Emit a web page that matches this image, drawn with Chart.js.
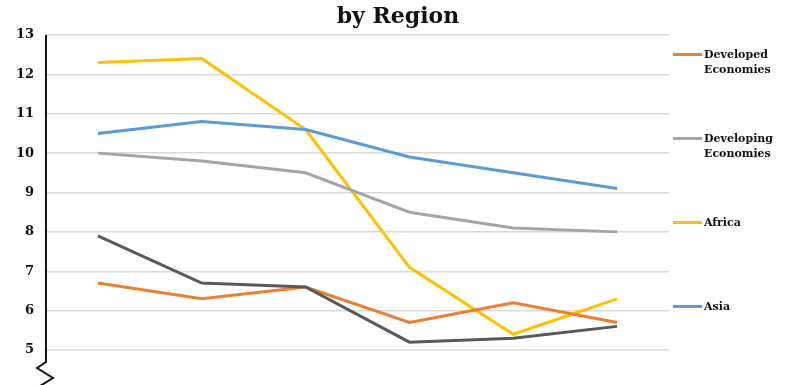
<!DOCTYPE html>
<html>
<head>
<meta charset="utf-8">
<script src="https://cdn.jsdelivr.net/npm/chart.js@4/dist/chart.umd.min.js"></script>
<style>
  html, body { margin: 0; padding: 0; background: #fff; overflow: hidden; }
  #wrap { position: relative; width: 796px; height: 385px; }
  #title { position: absolute; left: 0; top: 0; width: 796px; text-align: center;
           font-family: "DejaVu Serif", serif; font-weight: bold; font-size: 22px; line-height: 30px; color: #111; }
  .leg { position: absolute; left: 673px; font-family: "DejaVu Serif", serif; font-weight: bold;
         font-size: 11px; line-height: 15px; color: #111; }
  .leg i { position: absolute; left: 0; top: 6px; width: 29px; height: 3px; }
  .leg span { display: block; margin-left: 31px; }
</style>
</head>
<body>
<div id="wrap">
  <canvas id="lineChart" width="796" height="385"></canvas>
  <div id="title">by Region</div>
  <div id="legend"></div>
</div>
<script>
// Datos
var years = ['1', '2', '3', '4', '5', '6'];
var seriesNames = ['Developed Economies', 'Developing Economies', 'Africa', 'Asia', 'Latin America and the Caribbean'];
var developed = [6.7, 6.3, 6.6, 5.7, 6.2, 5.7];
var developing = [10.0, 9.8, 9.5, 8.5, 8.1, 8.0];
var africa = [12.3, 12.4, 10.6, 7.1, 5.4, 6.3];
var asia = [10.5, 10.8, 10.6, 9.9, 9.5, 9.1];
var latinAmerica = [7.9, 6.7, 6.6, 5.2, 5.3, 5.6];
var colores = ['#ED7D31', '#A5A5A5', '#FFC000', '#5B9BD5', '#595959'];

var valores = [developed, developing, africa, asia, latinAmerica];
var datasets = [];
// la serie gris oscura va debajo en el dibujo original? la dibujamos primero
var orden = [4, 1, 3, 0, 2];
orden.forEach(function(i) {
    datasets.push({
        label: seriesNames[i],
        data: valores[i],
        borderColor: colores[i],
        backgroundColor: colores[i],
        borderWidth: 3,
        pointRadius: 0,
        tension: 0,
        fill: false
    });
});

// Eje con corte (zigzag) abajo a la izquierda
var axisBreak = {
    id: 'axisBreak',
    afterDraw: function(chart) {
        var ctx = chart.ctx;
        var a = chart.chartArea;
        var x = a.left;
        ctx.save();
        ctx.strokeStyle = '#111';
        ctx.lineWidth = 2;
        ctx.beginPath();
        ctx.moveTo(x, a.top);
        ctx.lineTo(x, a.bottom + 12);
        ctx.lineTo(x - 9, a.bottom + 18);
        ctx.lineTo(x + 7, a.bottom + 28);
        ctx.lineTo(x - 6, a.bottom + 36);
        ctx.stroke();
        ctx.restore();
    }
};

var ctx = document.getElementById('lineChart').getContext('2d');
var lineChart = new Chart(ctx, {
    type: 'line',
    data: { labels: years, datasets: datasets },
    options: {
        responsive: false,
        animation: false,
        layout: { padding: { left: 0, right: 127, top: 35, bottom: 35 } },
        plugins: {
            legend: { display: false },
            title: { display: false },
            tooltip: { enabled: false }
        },
        scales: {
            x: { display: false, offset: true },
            y: {
                min: 5,
                max: 13,
                afterFit: function(scale) { scale.width = 46; },
                border: { display: false },
                grid: { color: '#d9d9d9', lineWidth: 1.5, drawTicks: false },
                ticks: {
                    stepSize: 1,
                    padding: 12,
                    color: '#111',
                    font: { family: '"DejaVu Serif", serif', weight: 'bold', size: 13 }
                }
            }
        }
    },
    plugins: [axisBreak]
});

// Leyenda a la derecha
var legendTops = [47, 131, 215, 299, 383];
var legend = document.getElementById('legend');
seriesNames.forEach(function(nombre, i) {
    var d = document.createElement('div');
    d.className = 'leg';
    d.style.top = legendTops[i] + 'px';
    var partes = nombre.split(' ');
    var texto = partes.length > 1 ? partes[0] + '<br>' + partes.slice(1).join(' ') : nombre;
    d.innerHTML = '<i style="background:' + colores[i] + '"></i><span>' + texto + '</span>';
    legend.appendChild(d);
});
</script>
</body>
</html>
